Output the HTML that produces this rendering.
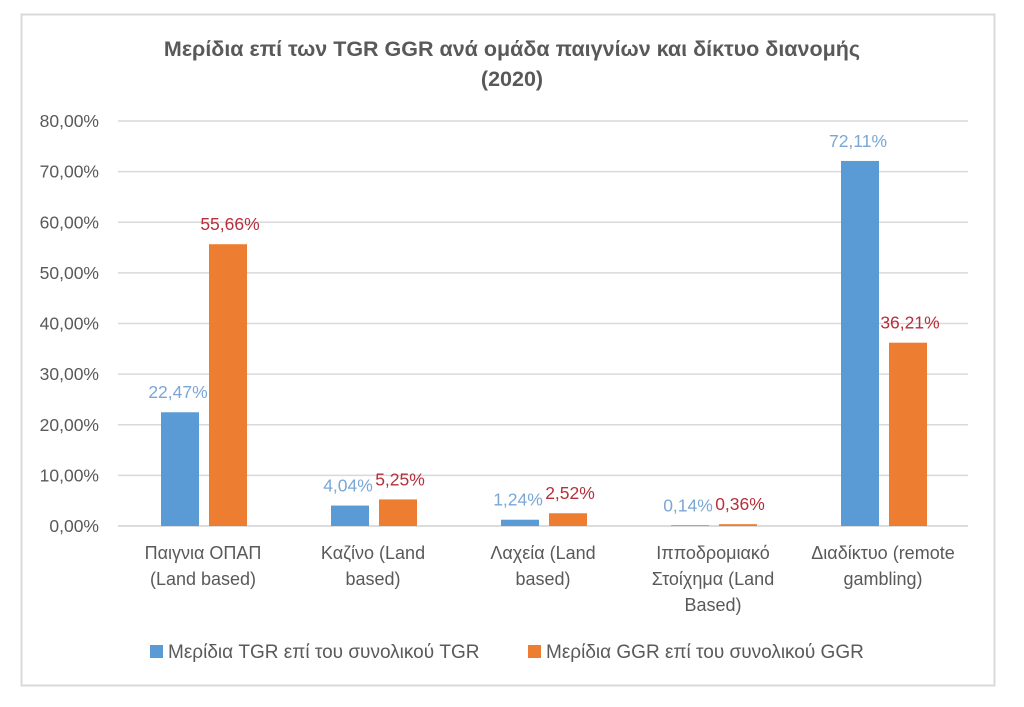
<!DOCTYPE html>
<html><head><meta charset="utf-8">
<style>
body{margin:0;background:#fff;}
svg text{font-family:"Liberation Sans","DejaVu Sans",sans-serif;}
</style></head>
<body>
<svg id="chart" width="1024" height="702" viewBox="0 0 1024 702">
<rect x="21.5" y="14.5" width="973" height="671" fill="#fff" stroke="#d9d9d9" stroke-width="2"/>
<text x="512" y="56" text-anchor="middle" font-size="21.5" font-weight="bold" fill="#595959">Μερίδια επί των TGR GGR ανά ομάδα παιγνίων και δίκτυο διανομής</text>
<text x="512" y="86" text-anchor="middle" font-size="21.5" font-weight="bold" fill="#595959">(2020)</text>
<g id="grid"></g><g id="bars"></g><g id="labels"></g>
<rect x="150" y="645" width="13" height="13" fill="#5b9bd5"/>
<text x="168" y="658" font-size="19" fill="#595959">Μερίδια TGR επί του συνολικού TGR</text>
<rect x="528" y="645" width="13" height="13" fill="#ed7d31"/>
<text x="546" y="658" font-size="19" fill="#595959">Μερίδια GGR επί του συνολικού GGR</text>
</svg>
<script>
const categories=[["Παιγνια ΟΠΑΠ","(Land based)"],["Καζίνο (Land","based)"],["Λαχεία (Land","based)"],["Ιπποδρομιακό","Στοίχημα (Land","Based)"],["Διαδίκτυο (remote","gambling)"]];
const tgr=[22.47,4.04,1.24,0.14,72.11];
const ggr=[55.66,5.25,2.52,0.36,36.21];
const yTicks=[0,10,20,30,40,50,60,70,80];
const NS="http://www.w3.org/2000/svg";
const x0=118,x1=968,y0=526,y80=121;
const yS=v=>y0-(v/80)*(y0-y80);
const band=(x1-x0)/categories.length;
const cx=i=>x0+band*(i+0.5);
const fmt=v=>v.toFixed(2).replace('.',',')+'%';
function mk(tag,attrs,parent,txt){const e=document.createElementNS(NS,tag);for(const k in attrs)e.setAttribute(k,attrs[k]);if(txt!==undefined)e.textContent=txt;parent.appendChild(e);return e;}
const grid=document.getElementById('grid'),bars=document.getElementById('bars'),labels=document.getElementById('labels');
yTicks.forEach(t=>{
  const l=mk('line',{x1:x0,x2:x1,y1:yS(t),y2:yS(t),stroke:t===0?'#d0d0d0':'#d9d9d9','stroke-width':1.5},grid);
  
  
  const tx=mk('text',{x:99,y:yS(t)+6,'text-anchor':'end','font-size':17.5,fill:'#595959'},grid,t.toFixed(2).replace('.',',')+'%');
  
  
});
categories.forEach((c,i)=>{
  const c0=cx(i);
  const b1=mk('rect',{x:c0-42,y:yS(tgr[i]),width:38,height:y0-yS(tgr[i]),fill:'#5b9bd5'},bars);
  
  
  const b2=mk('rect',{x:c0+6,y:yS(ggr[i]),width:38,height:y0-yS(ggr[i]),fill:'#ed7d31'},bars);
  
  
  const l1=mk('text',{x:c0-25,y:yS(tgr[i])-14,'text-anchor':'middle','font-size':17.5,fill:'#7aa7d6'},labels,fmt(tgr[i]));
  
  
  const l2=mk('text',{x:c0+27,y:yS(ggr[i])-14,'text-anchor':'middle','font-size':17.5,fill:'#b5303a'},labels,fmt(ggr[i]));
  
  
  c.forEach((line,j)=>{
    const t=mk('text',{x:c0,y:559+j*26,'text-anchor':'middle','font-size':18,fill:'#595959'},labels,line);
    
    
  });
});
</script>
</body></html>
